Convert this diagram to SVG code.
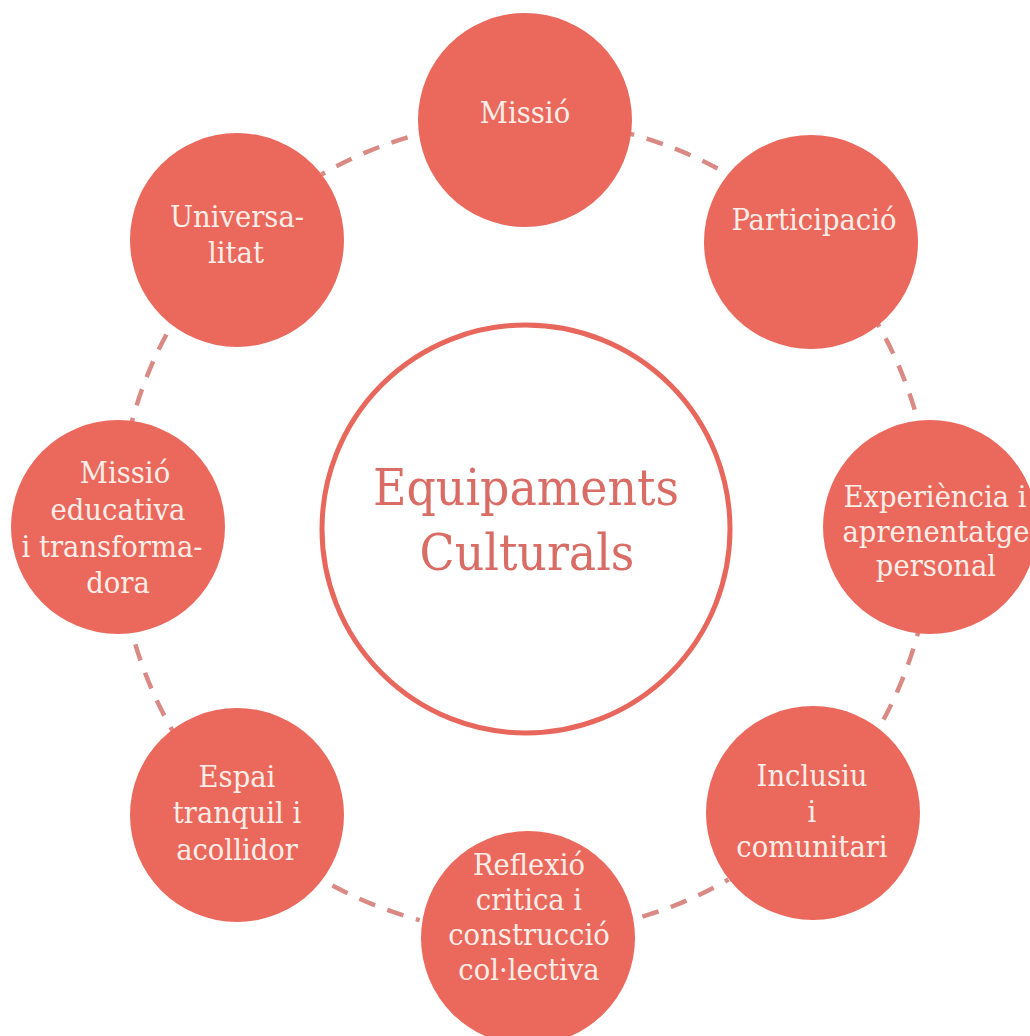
<svg xmlns="http://www.w3.org/2000/svg" width="1030" height="1036" viewBox="0 0 1030 1036">
  <style>
    .node { fill: #EA685C; }
    .lbl { font-family: "DejaVu Serif Condensed", "DejaVu Serif", "Liberation Serif", serif; font-stretch: condensed; font-size: 30.5px; fill: #FBEEE8; text-anchor: middle; }
    .title { font-family: "DejaVu Serif Condensed", "DejaVu Serif", "Liberation Serif", serif; font-stretch: condensed; font-size: 51px; fill: #D96C64; text-anchor: middle; }
    .conn { fill: none; stroke: #D98A84; stroke-width: 4.5; stroke-dasharray: 17 13; stroke-dashoffset: 13; }
  </style>
  <rect width="1030" height="1036" fill="#FFFFFF"/>
  <g id="connectors">
    <path class="conn" d="M630.3,133.9 A407,407 0 0 1 728.5,174.5"/>
    <path class="conn" d="M877.5,323.5 A407,407 0 0 1 918.1,421.7"/>
    <path class="conn" d="M918.1,632.3 A407,407 0 0 1 877.5,730.5"/>
    <path class="conn" d="M728.5,879.5 A407,407 0 0 1 630.3,920.1"/>
    <path class="conn" d="M419.7,920.1 A407,407 0 0 1 321.5,879.5"/>
    <path class="conn" d="M172.5,730.5 A407,407 0 0 1 131.9,632.3"/>
    <path class="conn" d="M131.9,421.7 A407,407 0 0 1 172.5,323.5"/>
    <path class="conn" d="M321.5,174.5 A407,407 0 0 1 419.7,133.9"/>
  </g>
  <g id="center">
    <circle cx="526" cy="529" r="204" fill="#FFFFFF" stroke="#E8675C" stroke-width="5"/>
    <text class="title" x="526" y="505">Equipaments</text>
    <text class="title" x="527" y="570">Culturals</text>
  </g>
  <g id="missio">
    <circle class="node" cx="525" cy="120" r="107"/>
    <text class="lbl" x="525" y="123">Missió</text>
  </g>
  <g id="participacio">
    <circle class="node" cx="811" cy="242" r="107"/>
    <text class="lbl" x="814" y="230">Participació</text>
  </g>
  <g id="experiencia">
    <circle class="node" cx="930" cy="527" r="107"/>
    <text class="lbl" x="935" y="507">Experiència i</text>
    <text class="lbl" x="936" y="542">aprenentatge</text>
    <text class="lbl" x="936" y="576">personal</text>
  </g>
  <g id="inclusiu">
    <circle class="node" cx="813" cy="813" r="107"/>
    <text class="lbl" x="812" y="786">Inclusiu</text>
    <text class="lbl" x="812" y="822">i</text>
    <text class="lbl" x="812" y="857">comunitari</text>
  </g>
  <g id="reflexio">
    <circle class="node" cx="528" cy="938" r="107"/>
    <text class="lbl" x="529" y="875">Reflexió</text>
    <text class="lbl" x="529" y="910">critica i</text>
    <text class="lbl" x="529" y="945">construcció</text>
    <text class="lbl" x="529" y="980">col·lectiva</text>
  </g>
  <g id="espai">
    <circle class="node" cx="237" cy="815" r="107"/>
    <text class="lbl" x="237" y="787">Espai</text>
    <text class="lbl" x="237" y="823">tranquil i</text>
    <text class="lbl" x="237" y="860">acollidor</text>
  </g>
  <g id="missio-educativa">
    <circle class="node" cx="118" cy="527" r="107"/>
    <text class="lbl" x="125" y="483">Missió</text>
    <text class="lbl" x="118" y="520">educativa</text>
    <text class="lbl" x="112" y="557">i transforma-</text>
    <text class="lbl" x="118" y="593">dora</text>
  </g>
  <g id="universalitat">
    <circle class="node" cx="237" cy="240" r="107"/>
    <text class="lbl" x="237" y="227">Universa-</text>
    <text class="lbl" x="236" y="263">litat</text>
  </g>
</svg>
